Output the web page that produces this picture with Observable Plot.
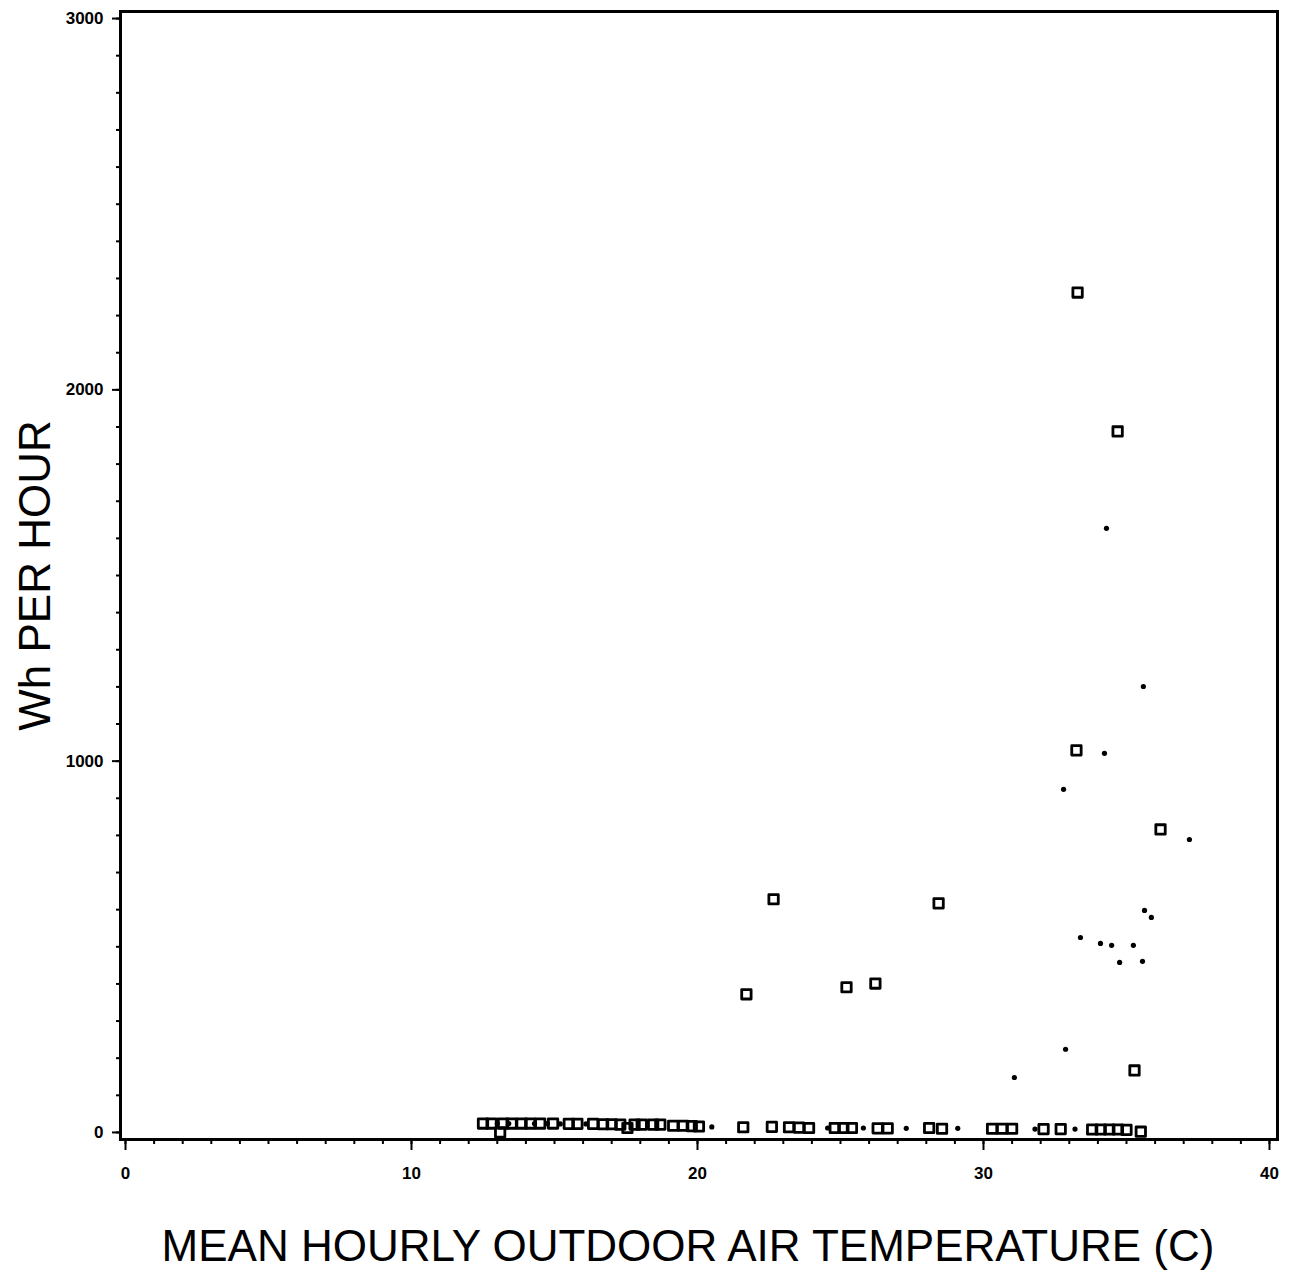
<!DOCTYPE html>
<html><head><meta charset="utf-8">
<script src="https://cdn.jsdelivr.net/npm/d3@7"></script>
<script src="https://cdn.jsdelivr.net/npm/@observablehq/plot@0.6"></script>
<style>body{margin:0;background:#fff} svg{display:block}</style>
</head><body><div id="chart"></div>
<script>
// Open squares: temperature (C) and Wh per hour
const squareTemp = [33.29, 34.69, 33.25, 36.19, 22.66, 28.43, 21.71, 25.21, 26.22, 35.28,
  12.5, 12.8, 13.1, 13.2, 13.5, 13.85, 14.15, 14.5, 14.95, 15.5, 15.8, 16.35, 16.7, 17.0, 17.3, 17.55, 17.8,
  18.05, 18.45, 18.7, 19.15, 19.5, 19.8, 20.05, 21.6, 22.6, 23.2, 23.55, 23.9, 24.8, 25.1, 25.4,
  26.3, 26.65, 28.1, 28.55, 30.3, 30.65, 31.0, 32.1, 32.7, 33.8, 34.1, 34.4, 34.7, 35.0, 35.5];
const squareWh = [2262, 1888, 1029, 816, 628, 617, 372, 391, 401, 167,
  24, 24, 0, 24, 24, 24, 24, 24, 24, 23, 23, 23, 22, 22, 21, 12, 21,
  21, 21, 21, 18, 18, 17, 16, 14, 15, 14, 13, 12, 12, 12, 12,
  11, 11, 12, 10, 10, 10, 10, 9, 9, 8, 8, 8, 8, 7, 2];
// Small filled dots: temperature (C) and Wh per hour
const dotTemp = [34.30, 35.59, 34.23, 32.80, 37.20, 35.63, 35.87, 33.39, 34.09, 34.48, 35.24, 34.76, 35.56, 32.87, 31.08,
  13.0, 13.4, 14.3, 14.75, 15.2, 16.1, 20.5, 24.55, 25.8, 27.3, 29.1, 31.8, 33.2];
const dotWh = [1627, 1201, 1021, 924, 789, 598, 579, 525, 509, 504, 504, 458, 461, 224, 148,
  24, 24, 24, 24, 23, 23, 15, 12, 12, 11, 11, 9, 9];
const xTickValues = [0, 10, 20, 30, 40];
const yTickValues = [0, 1000, 2000, 3000];
const xLabel = "MEAN HOURLY OUTDOOR AIR TEMPERATURE (C)";
const yLabel = "Wh PER HOUR";

const squares = squareTemp.map((t, i) => ({t, wh: squareWh[i]}));
const dots = dotTemp.map((t, i) => ({t, wh: dotWh[i]}));
const font = "'Liberation Sans', Arial, Helvetica, sans-serif";

const chart = Plot.plot({
  width: 1290, height: 1281,
  marginLeft: 120, marginRight: 13, marginTop: 11, marginBottom: 142,
  x: {domain: [-0.175, 40.28]},
  y: {domain: [-19, 3019]},
  style: {fontFamily: font, background: "#fff", color: "#000"},
  marks: [
    Plot.axisX({ticks: d3.range(0, 41), tickSize: 5, tickFormat: () => "", label: null, strokeWidth: 2}),
    Plot.axisX({ticks: xTickValues, tickSize: 11, tickPadding: 16, tickFormat: d => String(d), fontSize: 17, fontWeight: "bold", label: null, strokeWidth: 2}),
    Plot.axisY({ticks: d3.range(0, 3001, 100), tickSize: 4, tickFormat: () => "", label: null, strokeWidth: 2}),
    Plot.axisY({ticks: yTickValues, tickSize: 8, tickPadding: 9, tickFormat: d => String(d), fontSize: 17, fontWeight: "bold", label: null, strokeWidth: 2}),
    Plot.frame({stroke: "#000", strokeWidth: 3}),
    Plot.dot(squares, {x: "t", y: "wh", symbol: "square", r: 5.3, stroke: "#000", strokeWidth: 2.8, fill: "none", strokeLinejoin: "round"}),
    Plot.dot(dots, {x: "t", y: "wh", r: 2.6, fill: "#000", stroke: "none"}),
    Plot.text([xLabel], {frameAnchor: "bottom", dy: 121, dx: -11, fontSize: 44, fill: "#000", textAnchor: "middle"}),
    Plot.text([yLabel], {frameAnchor: "left", dx: -85, rotate: -90, fontSize: 44, fill: "#000", textAnchor: "middle"})
  ]
});
document.getElementById("chart").appendChild(chart);
</script>
</body></html>
